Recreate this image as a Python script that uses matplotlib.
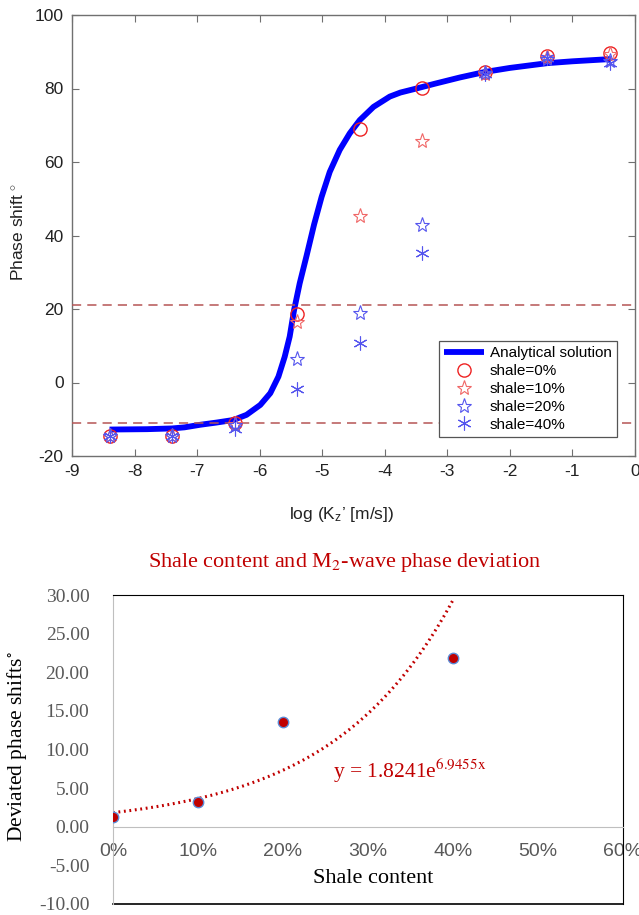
import numpy as np
import matplotlib
matplotlib.use("Agg")
import matplotlib.pyplot as plt
from matplotlib.ticker import FuncFormatter

plt.rcParams["font.family"] = ["Liberation Sans", "DejaVu Sans"]
plt.rcParams["mathtext.fontset"] = "custom"
plt.rcParams["mathtext.rm"] = "Liberation Sans"
plt.rcParams["mathtext.it"] = "Liberation Sans:italic"
plt.rcParams["axes.unicode_minus"] = False

# --- phase shift vs log permeability ---
log_k = [-8.4, -7.4, -6.4, -5.4, -4.4, -3.4, -2.4, -1.4, -0.4]
shale_0 = [-14.5, -14.5, -11.0, 18.6, 69.0, 80.1, 84.5, 88.9, 89.7]
shale_10 = [-14.5, -14.5, -11.2, 16.5, 45.3, 65.7, 84.0, 88.5, 89.3]
shale_20 = [-14.5, -14.5, -11.6, 6.4, 18.9, 42.9, 84.3, 88.0, 87.6]
shale_40 = [-14.6, -14.6, -12.7, -1.8, 10.7, 35.2, 84.0, 88.4, 86.9]

curve_x = [-8.4, -7.8, -7.4, -7.2, -6.95, -6.69, -6.42, -6.21, -5.99, -5.83,
           -5.70, -5.6, -5.52, -5.45, -5.36, -5.25, -5.13, -5.01, -4.88,
           -4.72, -4.56, -4.4, -4.18, -3.92, -3.75, -3.54, -3.2, -2.8, -2.4,
           -2.0, -1.4, -1.0, -0.4]
curve_y = [-12.8, -12.7, -12.5, -12.2, -11.5, -10.9, -10.2, -8.8, -6.1, -2.9,
           1.6, 7.0, 12.5, 19.7, 27.0, 34.5, 43.0, 50.5, 57.3,
           63.3, 67.8, 71.4, 75.0, 77.8, 78.9, 79.8, 81.3, 83.0, 84.5,
           85.6, 86.9, 87.4, 88.0]

ref_levels = [21.0, -11.0]

# --- deviation vs shale content ---
shale_frac = [0.0, 0.1, 0.2, 0.4]
deviation = [1.3, 3.2, 13.6, 21.9]
fit_a = 1.8241
fit_b = 6.9455
fit_end = 0.4

fig = plt.figure(figsize=(6.39, 9.15), dpi=100)

ax = fig.add_axes([72 / 639, 1 - 456 / 915, 563 / 639, 441 / 915])
ax.plot(curve_x, curve_y, color="#0000ff", lw=4.2, solid_capstyle="butt",
        solid_joinstyle="round", label="Analytical solution", zorder=2)
for lv in ref_levels:
    ax.axhline(lv, color="#b55555", lw=1.1, dashes=(6, 4), zorder=3)
ax.plot(log_k, shale_0, ls="none", marker="o", ms=9.5, mfc="none",
        mec="#ee2222", mew=1.0, label="shale=0%", zorder=4)
ax.plot(log_k, shale_10, ls="none", marker="*", ms=11, mfc="none",
        mec="#f06666", mew=0.8, label="shale=10%", zorder=5)
ax.plot(log_k, shale_20, ls="none", marker="*", ms=11, mfc="none",
        mec="#5555ee", mew=0.8, label="shale=20%", zorder=6)
ax.plot(log_k, shale_40, ls="none", marker=(6, 2, 0), ms=10, mfc="none",
        mec="#5555ee", mew=0.8, label="shale=40%", zorder=7)

ax.set_xlim(-9, 0)
ax.set_ylim(-20, 100)
ax.set_xticks(range(-9, 1))
ax.set_yticks(range(-20, 101, 20))
ax.tick_params(direction="in", top=True, right=True, length=5,
               color="#707070", labelsize=12.5, labelcolor="#222222", pad=6)
for s in ax.spines.values():
    s.set_color("#707070")
    s.set_linewidth(1.0)

leg = ax.legend(loc="lower right", bbox_to_anchor=(0.968, 0.043), fontsize=11,
                fancybox=False, framealpha=1, edgecolor="#555555",
                handlelength=2.6, labelspacing=0.25, borderpad=0.35,
                handletextpad=0.4, borderaxespad=0)
leg.get_frame().set_linewidth(0.9)

fig.text(342 / 639, 1 - 514 / 915, "log (K$_\\mathrm{z}$’ [m/s])",
         ha="center", va="center", fontsize=12.5, color="#222222")
fig.text(18 / 639, 1 - 232 / 915, "Phase shift $^{\\circ}$", rotation=90,
         ha="center", va="center", fontsize=12.5, color="#222222")

# --- lower panel ---
serif = ["Liberation Serif", "DejaVu Serif"]
bx = fig.add_axes([113 / 639, 1 - 904 / 915, 510 / 639, 309 / 915])
xs = np.linspace(0, fit_end, 200)
bx.plot(xs, fit_a * np.exp(fit_b * xs), color="#c00000", lw=2.2,
        ls=(0, (0.6, 1.2)), dash_capstyle="butt", zorder=2)
bx.plot(shale_frac, deviation, ls="none", marker="o", ms=7.5,
        mfc="#c00000", mec="#5b8bd6", mew=1.0, zorder=3)

bx.set_xlim(0, 0.6)
bx.set_ylim(-10, 30)
bx.set_xticks(np.arange(0, 0.61, 0.1))
bx.set_yticks(range(-10, 31, 5))
bx.xaxis.set_major_formatter(FuncFormatter(lambda v, p: f"{v * 100:.0f}%"))
bx.yaxis.set_major_formatter(FuncFormatter(lambda v, p: f"{v:.2f}"))
bx.tick_params(length=0, labelsize=14, labelcolor="#595959")
bx.tick_params(axis="x", pad=12)
bx.tick_params(axis="y", pad=17)
for lab in bx.get_xticklabels() + bx.get_yticklabels():
    lab.set_family(serif)

bx.spines["bottom"].set_position(("data", 0))
bx.spines["bottom"].set_color("#bfbfbf")
bx.spines["left"].set_color("#bfbfbf")
bx.spines["top"].set_color("black")
bx.spines["right"].set_color("black")
bx.plot([0, 1], [0, 0], transform=bx.transAxes, color="black", lw=1.2,
        clip_on=False)
bx.patch.set_alpha(0)

bx.text(0.51, 0.084, "Shale content", transform=bx.transAxes, ha="center",
        va="center", fontsize=16, family=serif, color="black")
bx.text(0.431, 0.43, "y = 1.8241e$^{\\mathrm{6.9455x}}$", transform=bx.transAxes,
        ha="left", va="center", fontsize=15.5, family=serif, color="#c00000",
        math_fontfamily="stix")
fig.text(17 / 639, 1 - 747 / 915, "Deviated phase shifts$^{\\circ}$", rotation=90,
         ha="center", va="center", fontsize=15.5, family=serif, color="black",
         math_fontfamily="stix")
fig.text(345 / 639, 1 - 562 / 915, "Shale content and M$_{\\mathrm{2}}$-wave phase deviation",
         ha="center", va="center", fontsize=16, family=serif, color="#c00000",
         math_fontfamily="stix")

fig.savefig("out.png", dpi=100)
